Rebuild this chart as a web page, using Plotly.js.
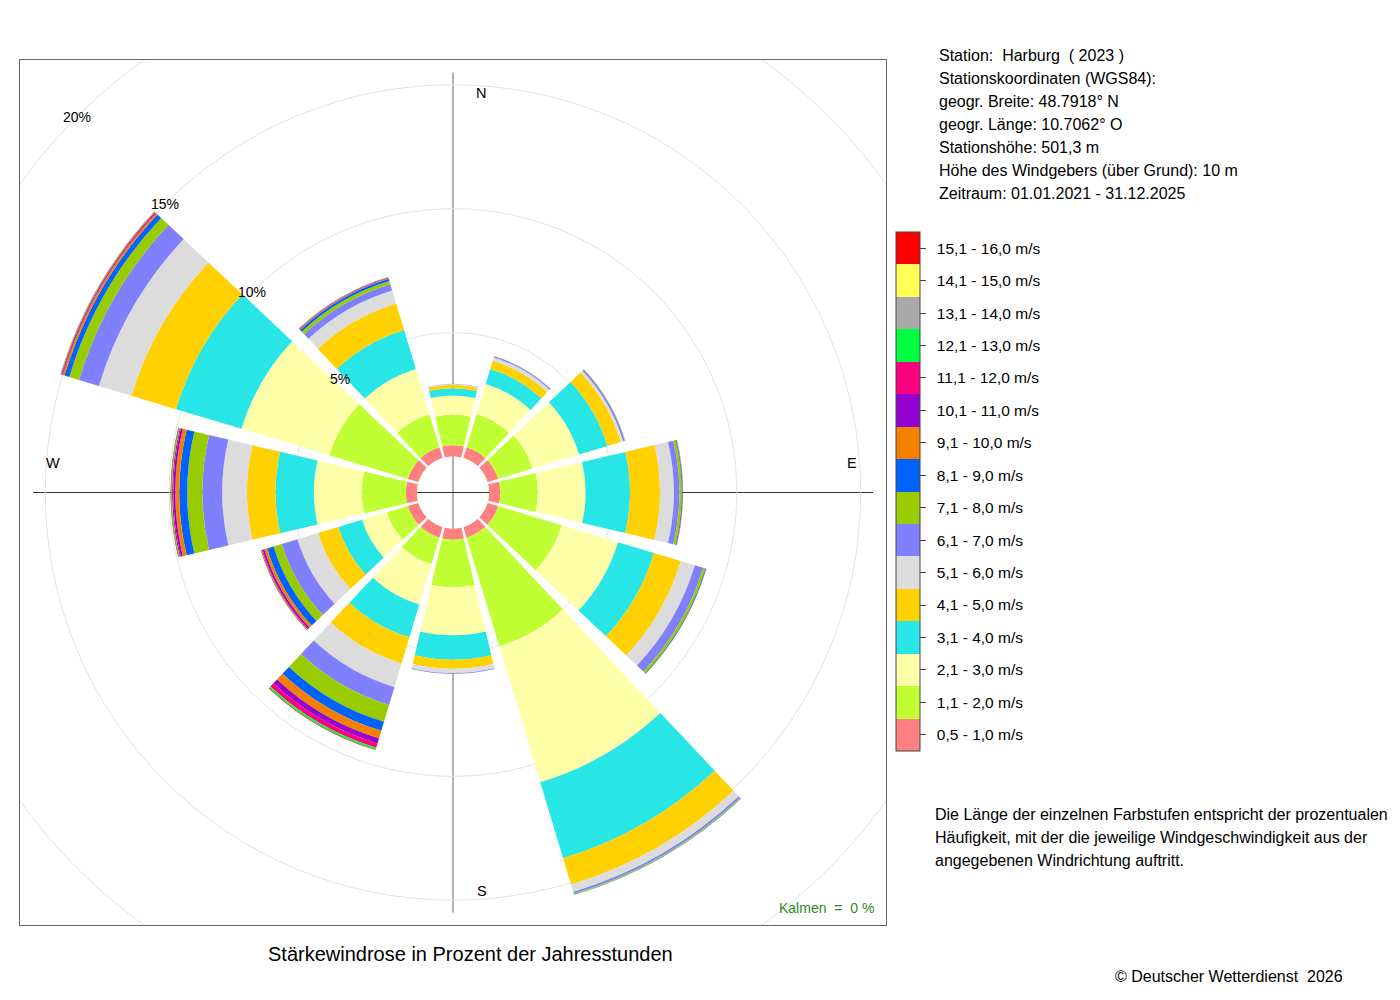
<!DOCTYPE html>
<html>
<head>
<meta charset="utf-8">
<script src="https://cdn.plot.ly/plotly-3.0.1.min.js"></script>
<style>
html,body{margin:0;padding:0;background:#ffffff;}
#chart{width:1400px;height:1000px;}
</style>
</head>
<body>
<div id="chart"></div>
<script>
// ---------------- DATA ----------------
const directions = [0, 30, 60, 90, 120, 150, 180, 210, 240, 270, 300, 330];

const speedBins = [
  '0,5 - 1,0 m/s', '1,1 - 2,0 m/s', '2,1 - 3,0 m/s', '3,1 - 4,0 m/s',
  '4,1 - 5,0 m/s', '5,1 - 6,0 m/s', '6,1 - 7,0 m/s', '7,1 - 8,0 m/s',
  '8,1 - 9,0 m/s', '9,1 - 10,0 m/s', '10,1 - 11,0 m/s', '11,1 - 12,0 m/s',
  '12,1 - 13,0 m/s', '13,1 - 14,0 m/s', '14,1 - 15,0 m/s', '15,1 - 16,0 m/s'
];

const binColors = [
  '#FF8080', '#BFFF33', '#FFFFAA', '#29E6E6', '#FFD100', '#DCDCDC',
  '#8080FF', '#99CC00', '#0062FF', '#F58000', '#9400D0', '#FF0080',
  '#00FF40', '#AAAAAA', '#FFFF55', '#FF0000'
];

// percent of hours per direction (order of `directions`)
const v05_10  = [0.45, 0.45, 0.45, 0.46, 0.45, 0.45, 0.45, 0.45, 0.45, 0.45, 0.45, 0.45];
const v11_20  = [1.24, 1.41, 1.45, 1.51, 2.68, 4.58, 1.92, 1.11, 0.88, 1.78, 3.31, 1.40];
const v21_30  = [0.77, 1.26, 1.96, 1.93, 2.37, 5.73, 1.94, 1.71, 1.05, 1.93, 3.70, 1.90];
const v31_40  = [0.29, 0.63, 1.20, 1.79, 1.52, 3.20, 0.98, 1.38, 1.00, 1.55, 2.76, 1.64];
const v41_50  = [0.14, 0.35, 0.56, 1.21, 1.13, 1.11, 0.37, 1.10, 0.85, 1.15, 1.88, 1.12];
const v51_60  = [0.03, 0.14, 0.10, 0.56, 0.59, 0.31, 0.17, 1.00, 0.87, 1.00, 1.37, 0.55];
const v61_70  = [0.01, 0.05, 0.07, 0.22, 0.35, 0.08, 0.03, 0.75, 0.66, 0.80, 0.84, 0.26];
const v71_80  = [0.00, 0.01, 0.02, 0.10, 0.10, 0.04, 0.005, 0.71, 0.35, 0.61, 0.41, 0.14];
const v81_90  = [0.00, 0.00, 0.00, 0.03, 0.03, 0.01, 0.00, 0.38, 0.27, 0.32, 0.20, 0.09];
const v91_100 = [0.00, 0.00, 0.00, 0.01, 0.01, 0.00, 0.00, 0.32, 0.12, 0.16, 0.08, 0.03];
const v101_110 = [0.00, 0.00, 0.00, 0.005, 0.00, 0.00, 0.00, 0.21, 0.07, 0.08, 0.03, 0.02];
const v111_120 = [0.00, 0.00, 0.00, 0.005, 0.00, 0.00, 0.00, 0.18, 0.04, 0.05, 0.03, 0.01];
const v121_130 = [0.00, 0.00, 0.00, 0.00, 0.00, 0.00, 0.00, 0.08, 0.02, 0.04, 0.02, 0.01];
const v131_140 = [0.00, 0.00, 0.00, 0.00, 0.00, 0.00, 0.00, 0.00, 0.00, 0.00, 0.00, 0.00];
const v141_150 = [0.00, 0.00, 0.00, 0.00, 0.00, 0.00, 0.00, 0.00, 0.00, 0.00, 0.00, 0.00];
const v151_160 = [0.00, 0.00, 0.00, 0.00, 0.00, 0.00, 0.00, 0.02, 0.02, 0.02, 0.01, 0.01];

const seriesByBin = [v05_10, v11_20, v21_30, v31_40, v41_50, v51_60, v61_70, v71_80,
                     v81_90, v91_100, v101_110, v111_120, v121_130, v131_140, v141_150, v151_160];

const ringPercents = [5, 10, 15, 20];
const compassText = ['N', 'E', 'S', 'W'];

const stationLines = [
  'Station:  Harburg  ( 2023 )',
  'Stationskoordinaten (WGS84):',
  'geogr. Breite: 48.7918° N',
  'geogr. Länge: 10.7062° O',
  'Stationshöhe: 501,3 m',
  'Höhe des Windgebers (über Grund): 10 m',
  'Zeitraum: 01.01.2021 - 31.12.2025'
];
const noteLines = [
  'Die Länge der einzelnen Farbstufen entspricht der prozentualen',
  'Häufigkeit, mit der die jeweilige Windgeschwindigkeit aus der',
  'angegebenen Windrichtung auftritt.'
];
const calmText = 'Kalmen  =  0 %';
const captionText = 'Stärkewindrose in Prozent der Jahresstunden';
const copyrightText = '© Deutscher Wetterdienst  2026';

// ---------------- GEOMETRY ----------------
const W = 1400, H = 1000;
const px = x => x / W;
const py = y => 1 - y / H;
const frame = { l: 20, t: 60, r: 886, b: 925 };
const halfX = (frame.r - frame.l) / 2;
const halfY = (frame.b - frame.t) / 2;
const R = Math.min(halfX, halfY);
const holePx = 36;
const rMax = 16;
const pxPerPct = (R - holePx) / rMax;
const ringPx = p => holePx + p * pxPerPct;
const crossLen = 420;
const FONT = 'Liberation Sans, Arial, Helvetica, sans-serif';

// discrete colorscale
const colorscale = [];
binColors.forEach((c, i) => {
  colorscale.push([i / binColors.length, c]);
  colorscale.push([(i + 1) / binColors.length, c]);
});

// ---------------- TRACES ----------------
const traces = [];

// cross lines (cartesian overlay, beneath the rose)
traces.push({
  type: 'scatter', mode: 'lines', xaxis: 'x', yaxis: 'y',
  x: [0, 0], y: [-crossLen, crossLen],
  line: { color: '#8a8a8a', width: 1.3 }, hoverinfo: 'skip', showlegend: false
});
traces.push({
  type: 'scatter', mode: 'lines', xaxis: 'x', yaxis: 'y',
  x: [-crossLen, crossLen], y: [0, 0],
  line: { color: '#333333', width: 1 }, hoverinfo: 'skip', showlegend: false
});

seriesByBin.forEach((vals, i) => {
  const marker = {
    color: directions.map(() => i + 0.5),
    colorscale: colorscale, cmin: 0, cmax: binColors.length,
    line: { width: 0 },
    showscale: i === 0
  };
  if (i === 0) {
    marker.colorbar = {
      x: px(896), xanchor: 'left', xpad: 0,
      y: py(491.5), yanchor: 'middle', ypad: 0,
      len: 519, lenmode: 'pixels',
      thickness: 24, thicknessmode: 'pixels',
      outlinecolor: '#444444', outlinewidth: 1, borderwidth: 0,
      tickmode: 'array',
      tickvals: speedBins.map((_, k) => k + 0.5),
      ticktext: speedBins.map(s => '\u2002' + s),
      ticks: 'outside', ticklen: 6, tickcolor: '#444444', tickwidth: 1,
      tickfont: { family: FONT, size: 15.5, color: '#000000' }
    };
  }
  traces.push({
    type: 'barpolar', subplot: 'polar',
    name: speedBins[i],
    r: vals, theta: directions,
    width: directions.map(() => 26.5),
    marker: marker,
    hoverinfo: 'skip', showlegend: false
  });
});

// ---------------- ANNOTATIONS ----------------
const annotations = [];
const compassPos = { N: [28, 399.5], E: [399, 29.5], S: [29, -398.5], W: [-400, 29.5] };
compassText.forEach(t => {
  annotations.push({
    xref: 'x', yref: 'y', x: compassPos[t][0], y: compassPos[t][1], text: t,
    showarrow: false, xanchor: 'center', yanchor: 'middle',
    font: { family: FONT, size: 14.5, color: '#000' }
  });
});
ringPercents.forEach(p => {
  annotations.push({
    xref: 'x', yref: 'y', x: -ringPx(p) * Math.SQRT1_2, y: ringPx(p) * Math.SQRT1_2,
    text: p + '%', showarrow: false, xanchor: 'center', yanchor: 'middle',
    font: { family: FONT, size: 14, color: '#000' }
  });
});
stationLines.forEach((t, i) => {
  annotations.push({
    xref: 'paper', yref: 'paper', x: px(937), y: py(55 + i * 23.1), text: t,
    showarrow: false, xanchor: 'left', yanchor: 'middle',
    font: { family: FONT, size: 16, color: '#000' }
  });
});
noteLines.forEach((t, i) => {
  annotations.push({
    xref: 'paper', yref: 'paper', x: px(933), y: py(814 + i * 23), text: t,
    showarrow: false, xanchor: 'left', yanchor: 'middle',
    font: { family: FONT, size: 16, color: '#000' }
  });
});
annotations.push({
  xref: 'paper', yref: 'paper', x: px(876), y: py(908), text: calmText,
  showarrow: false, xanchor: 'right', yanchor: 'middle',
  font: { family: FONT, size: 14, color: '#2E8B22' }
});
annotations.push({
  xref: 'paper', yref: 'paper', x: px(470.5), y: py(954), text: captionText,
  showarrow: false, xanchor: 'center', yanchor: 'middle',
  font: { family: FONT, size: 20, color: '#000' }
});
annotations.push({
  xref: 'paper', yref: 'paper', x: px(1113), y: py(976), text: copyrightText,
  showarrow: false, xanchor: 'left', yanchor: 'middle',
  font: { family: FONT, size: 16, color: '#000' }
});

// ---------------- LAYOUT ----------------
const outerRing = ringPx(ringPercents[ringPercents.length - 1]);
const layout = {
  width: W, height: H,
  margin: { l: 0, r: 0, t: 0, b: 0, pad: 0 },
  paper_bgcolor: '#ffffff', plot_bgcolor: '#ffffff',
  font: { family: FONT, color: '#000' },
  showlegend: false,
  xaxis: {
    domain: [px(frame.l), px(frame.r)], range: [-halfX, halfX],
    showgrid: false, zeroline: false, showticklabels: false, ticks: '',
    showline: true, mirror: true, linecolor: '#666666', linewidth: 1, fixedrange: true
  },
  yaxis: {
    domain: [py(frame.b), py(frame.t)], range: [-halfY, halfY],
    showgrid: false, zeroline: false, showticklabels: false, ticks: '',
    showline: true, mirror: true, linecolor: '#666666', linewidth: 1, fixedrange: true
  },
  shapes: [{
    type: 'circle', xref: 'x', yref: 'y', layer: 'below',
    x0: -outerRing, x1: outerRing, y0: -outerRing, y1: outerRing,
    line: { color: '#e2e2e2', width: 1 }
  }],
  polar: {
    domain: { x: [px(frame.l), px(frame.r)], y: [py(frame.b), py(frame.t)] },
    hole: holePx / R,
    bgcolor: 'rgba(0,0,0,0)',
    barmode: 'stack',
    radialaxis: {
      range: [0, rMax], tickmode: 'array', tickvals: ringPercents.filter(p => p < rMax),
      showticklabels: false, ticks: '', showline: false,
      gridcolor: '#e2e2e2', gridwidth: 1, layer: 'below traces'
    },
    angularaxis: {
      rotation: 90, direction: 'clockwise',
      showgrid: false, showline: false, ticks: '', showticklabels: false,
      layer: 'below traces'
    }
  },
  annotations: annotations
};

Plotly.newPlot('chart', traces, layout, { displayModeBar: false, staticPlot: true });
</script>
</body>
</html>
